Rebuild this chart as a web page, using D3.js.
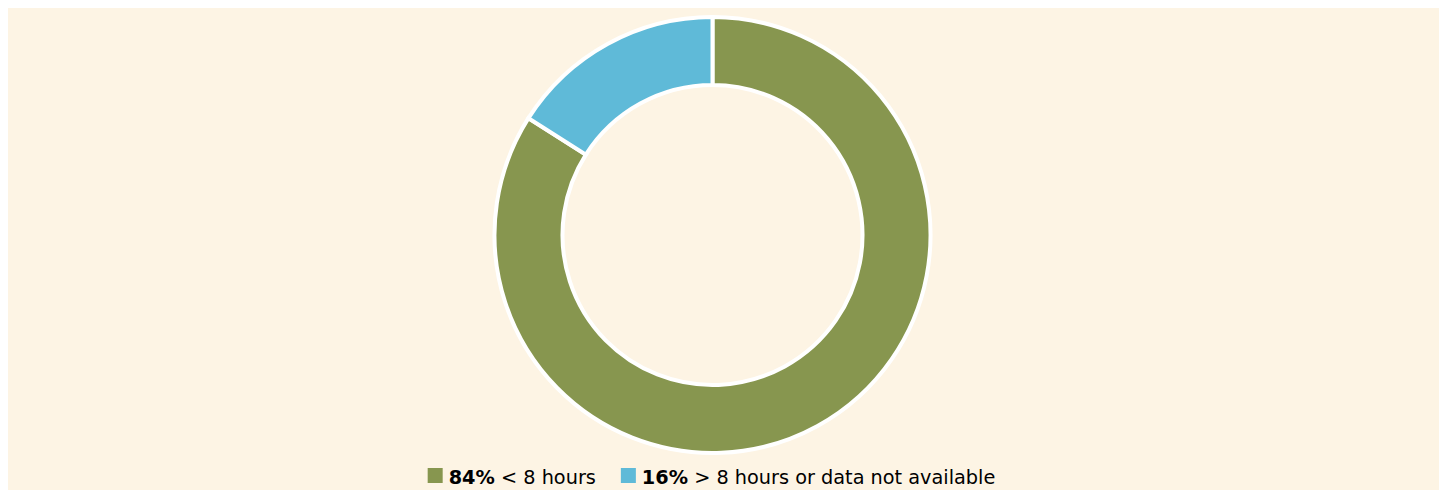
<!DOCTYPE html>
<html>
<head>
<meta charset="utf-8">
<script src="https://cdn.jsdelivr.net/npm/d3@7"></script>
<style>
  html, body { margin: 0; padding: 0; background: #ffffff; }
  svg { display: block; }
</style>
</head>
<body>
<svg id="chart" width="1440" height="490"></svg>
<script>
// chart data
var labels  = ['< 8 hours', '> 8 hours or data not available'];
var values  = [84, 16];
var colours = ['#87964f', '#5fbad8'];

var width  = 1440,
    height = 490;

var svg = d3.select('#chart');

// cream panel
svg.append('rect')
    .attr('x', 8)
    .attr('y', 8)
    .attr('width', 1431)
    .attr('height', 482)
    .attr('fill', '#fdf4e4');

var cx = 712.5, cy = 235,
    outerR = 218, innerR = 150;

var pie = d3.pie()
    .sort(null)
    .value(function(d) { return d; });

var arc = d3.arc()
    .innerRadius(innerR)
    .outerRadius(outerR);

var g = svg.append('g')
    .attr('transform', 'translate(' + cx + ',' + cy + ')');

g.selectAll('path.slice')
    .data(pie(values))
    .enter().append('path')
    .attr('class', 'slice')
    .attr('d', arc)
    .attr('fill', function(d, i) { return colours[i]; })
    .attr('stroke', '#ffffff')
    .attr('stroke-width', 4)
    .attr('stroke-linejoin', 'miter');

// legend, centred under the donut
var legend = svg.append('g')
    .attr('font-family', '"DejaVu Sans", sans-serif')
    .attr('font-size', 19.3)
    .attr('fill', '#000000');

var items = legend.selectAll('g.item')
    .data(values)
    .enter().append('g')
    .attr('class', 'item');

items.append('rect')
    .attr('width', 15)
    .attr('height', 15)
    .attr('y', 468)
    .attr('fill', function(d, i) { return colours[i]; });

var txt = items.append('text')
    .attr('x', 21)
    .attr('y', 484);

txt.append('tspan')
    .attr('font-weight', 'bold')
    .text(function(d) { return d + '%'; });

txt.append('tspan')
    .text(function(d, i) { return ' ' + labels[i]; });

// lay the items out one after the other
var gap = 25;
var xPos = 0;
items.each(function() {
    var el = d3.select(this);
    el.attr('transform', 'translate(' + xPos + ',0)');
    xPos += 21 + el.select('text').node().getComputedTextLength() + gap;
});
var total = xPos - gap;
legend.attr('transform', 'translate(' + (cx - 1 - total / 2) + ',0)');
</script>
</body>
</html>
